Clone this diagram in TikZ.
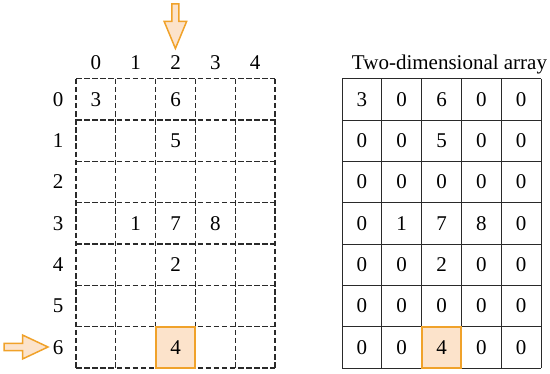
\documentclass[tikz,border=0pt]{standalone}
\usepackage{fontspec}
\setmainfont{Liberation Serif}
\definecolor{hlfill}{HTML}{FCE3CB}
\definecolor{hlline}{HTML}{F0A22A}
\definecolor{gridc}{HTML}{2A2A2A}
\begin{document}
\begin{tikzpicture}[x=1pt,y=-1pt,
  txt/.style={font=\fontsize{21}{25}\selectfont, inner sep=0pt, text=black},
  dashgrid/.style={gridc, line width=1.1pt, dash pattern=on 5.5pt off 2.6pt},
  solidgrid/.style={gridc, line width=0.9pt},
  hlbox/.style={draw=hlline, fill=hlfill, line width=1.9pt, minimum width=39.8pt, minimum height=41.33pt, inner sep=0pt, font=\fontsize{21}{25}\selectfont},
  pointer/.style={draw=hlline, fill=hlfill, line width=1.5pt, line join=miter}]
\useasboundingbox (0,0) rectangle (550,374);
\def\cw{39.8}
\def\ch{41.33}
\def\lx{76}
\def\rx{342}
\def\gy{78.7}
\def\skipmark{x}
% left dashed grid
\foreach \i in {0,...,7}{
  \draw[dashgrid] (\lx,\gy+\i*\ch) -- (\lx+5*\cw,\gy+\i*\ch);
}
\foreach \j in {0,...,5}{
  \draw[dashgrid] (\lx+\j*\cw,\gy) -- (\lx+\j*\cw,\gy+7*\ch);
}
% right solid grid
\foreach \i in {0,...,7}{
  \draw[solidgrid] (\rx,\gy+\i*\ch) -- (\rx+5*\cw,\gy+\i*\ch);
}
\foreach \j in {0,...,5}{
  \draw[solidgrid] (\rx+\j*\cw,\gy) -- (\rx+\j*\cw,\gy+7*\ch);
}
% column indices
\foreach \j in {0,...,4}{
  \node[txt] (col-\j) at (\lx+\j*\cw+0.5*\cw,63) {\j};
}
% row indices
\foreach \i in {0,...,6}{
  \node[txt] (row-\i) at (58,\gy+\i*\ch+0.5*\ch) {\i};
}
% left values
\foreach \r/\c/\v in {0/0/3,0/2/6,1/2/5,3/1/1,3/2/7,3/3/8,4/2/2}{
  \node[txt] (L-\r-\c) at (\lx+\c*\cw+0.5*\cw,\gy+\r*\ch+0.5*\ch) {\v};
}
\node[hlbox] (L-6-2) at (\lx+2.5*\cw,\gy+6.5*\ch) {4};
% right values
\foreach \r/\row in {0/{3,0,6,0,0},1/{0,0,5,0,0},2/{0,0,0,0,0},3/{0,1,7,8,0},4/{0,0,2,0,0},5/{0,0,0,0,0},6/{0,0,x,0,0}}{
  \foreach \v [count=\c from 0] in \row {
    \ifx\v\skipmark\else
      \node[txt] (R-\r-\c) at (\rx+\c*\cw+0.5*\cw,\gy+\r*\ch+0.5*\ch) {\v};
    \fi
  }
}
\node[hlbox] (R-6-2) at (\rx+2.5*\cw,\gy+6.5*\ch) {4};
% title
\node[txt, anchor=base] (title) at (449.5,70) {Two-dimensional array};
% pointers
\draw[pointer] (171.9,4) -- (178.9,4) -- (178.9,21.5) -- (186.6,21.5) -- (175.4,48.5) -- (164.2,21.5) -- (171.9,21.5) -- cycle;
\draw[pointer] (4,343.4) -- (22.5,343.4) -- (22.5,335) -- (48,347) -- (22.5,359) -- (22.5,350.6) -- (4,350.6) -- cycle;
\end{tikzpicture}
\end{document}
